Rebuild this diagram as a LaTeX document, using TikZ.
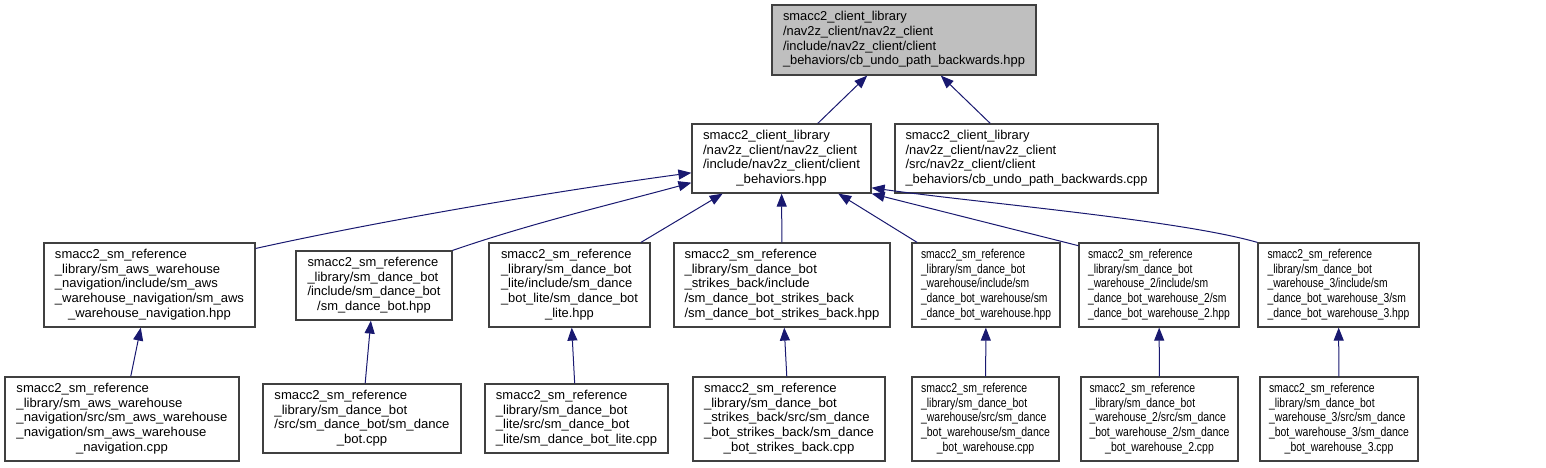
\documentclass[tikz,border=0pt]{standalone}
\usepackage{graphicx}
\usepackage{fontspec}
\setmainfont{Liberation Sans}
\usetikzlibrary{arrows.meta}
\definecolor{navy}{RGB}{25,25,112}
\definecolor{bordergray}{RGB}{64,64,64}
\definecolor{topfill}{RGB}{191,191,191}
\newcommand\dlab[3]{\resizebox{#1}{\height}{\begin{tabular}{@{}l@{}}#2\\\multicolumn{1}{@{}c@{}}{#3}\end{tabular}}}
\begin{document}
\begin{tikzpicture}[x=1pt,y=-1pt,
  box/.style={draw=bordergray, line width=1.2pt, fill=white, inner sep=0pt,
    font=\fontsize{12.9}{14.7}\selectfont},
  dep/.style={draw=navy, line width=1pt, -{Triangle[length=13pt,width=10pt]}}]
\useasboundingbox (0,0) rectangle (1546,467);
% top
\node[box, fill=topfill, minimum width=264pt, minimum height=70pt] (T) at (904,40)
  {\dlab{242pt}{smacc2\_client\_library\\/nav2z\_client/nav2z\_client\\/include/nav2z\_client/client}{\_behaviors/cb\_undo\_path\_backwards.hpp}};
% row 1
\node[box, minimum width=179pt, minimum height=69pt] (CB) at (781.5,158.5)
  {\dlab{157pt}{smacc2\_client\_library\\/nav2z\_client/nav2z\_client\\/include/nav2z\_client/client}{\_behaviors.hpp}};
\node[box, minimum width=263pt, minimum height=69pt] (CPP) at (1026.5,158.5)
  {\dlab{242pt}{smacc2\_client\_library\\/nav2z\_client/nav2z\_client\\/src/nav2z\_client/client}{\_behaviors/cb\_undo\_path\_backwards.cpp}};
% row 2
\node[box, minimum width=211pt, minimum height=84pt] (A) at (149.5,285)
  {\dlab{189pt}{smacc2\_sm\_reference\\\_library/sm\_aws\_warehouse\\\_navigation/include/sm\_aws\\\_warehouse\_navigation/sm\_aws}{\_warehouse\_navigation.hpp}};
\node[box, minimum width=156pt, minimum height=69pt] (D) at (374,285.5)
  {\dlab{133pt}{smacc2\_sm\_reference\\\_library/sm\_dance\_bot\\/include/sm\_dance\_bot}{/sm\_dance\_bot.hpp}};
\node[box, minimum width=161pt, minimum height=84pt] (L) at (569.5,285)
  {\dlab{137pt}{smacc2\_sm\_reference\\\_library/sm\_dance\_bot\\\_lite/include/sm\_dance\\\_bot\_lite/sm\_dance\_bot}{\_lite.hpp}};
\node[box, minimum width=216pt, minimum height=84pt] (S) at (782,285)
  {\dlab{195pt}{smacc2\_sm\_reference\\\_library/sm\_dance\_bot\\\_strikes\_back/include\\/sm\_dance\_bot\_strikes\_back}{/sm\_dance\_bot\_strikes\_back.hpp}};
\node[box, minimum width=148pt, minimum height=84pt] (W) at (986,285)
  {\dlab{130pt}{smacc2\_sm\_reference\\\_library/sm\_dance\_bot\\\_warehouse/include/sm\\\_dance\_bot\_warehouse/sm}{\_dance\_bot\_warehouse.hpp}};
\node[box, minimum width=160pt, minimum height=84pt] (W2) at (1159,285)
  {\dlab{142pt}{smacc2\_sm\_reference\\\_library/sm\_dance\_bot\\\_warehouse\_2/include/sm\\\_dance\_bot\_warehouse\_2/sm}{\_dance\_bot\_warehouse\_2.hpp}};
\node[box, minimum width=161pt, minimum height=84pt] (W3) at (1338.5,285)
  {\dlab{142pt}{smacc2\_sm\_reference\\\_library/sm\_dance\_bot\\\_warehouse\_3/include/sm\\\_dance\_bot\_warehouse\_3/sm}{\_dance\_bot\_warehouse\_3.hpp}};
% row 3
\node[box, minimum width=234pt, minimum height=84pt] (Ac) at (122,419)
  {\dlab{211pt}{smacc2\_sm\_reference\\\_library/sm\_aws\_warehouse\\\_navigation/src/sm\_aws\_warehouse\\\_navigation/sm\_aws\_warehouse}{\_navigation.cpp}};
\node[box, minimum width=198pt, minimum height=69pt] (Dc) at (362,418.5)
  {\dlab{175pt}{smacc2\_sm\_reference\\\_library/sm\_dance\_bot\\/src/sm\_dance\_bot/sm\_dance}{\_bot.cpp}};
\node[box, minimum width=183pt, minimum height=69pt] (Lc) at (576.5,418.5)
  {\dlab{161pt}{smacc2\_sm\_reference\\\_library/sm\_dance\_bot\\\_lite/src/sm\_dance\_bot}{\_lite/sm\_dance\_bot\_lite.cpp}};
\node[box, minimum width=192pt, minimum height=84pt] (Sc) at (789,419)
  {\dlab{170pt}{smacc2\_sm\_reference\\\_library/sm\_dance\_bot\\\_strikes\_back/src/sm\_dance\\\_bot\_strikes\_back/sm\_dance}{\_bot\_strikes\_back.cpp}};
\node[box, minimum width=147pt, minimum height=84pt] (Wc) at (985.5,419)
  {\dlab{129pt}{smacc2\_sm\_reference\\\_library/sm\_dance\_bot\\\_warehouse/src/sm\_dance\\\_bot\_warehouse/sm\_dance}{\_bot\_warehouse.cpp}};
\node[box, minimum width=157pt, minimum height=84pt] (W2c) at (1159.5,419)
  {\dlab{140pt}{smacc2\_sm\_reference\\\_library/sm\_dance\_bot\\\_warehouse\_2/src/sm\_dance\\\_bot\_warehouse\_2/sm\_dance}{\_bot\_warehouse\_2.cpp}};
\node[box, minimum width=158pt, minimum height=84pt] (W3c) at (1339,419)
  {\dlab{140pt}{smacc2\_sm\_reference\\\_library/sm\_dance\_bot\\\_warehouse\_3/src/sm\_dance\\\_bot\_warehouse\_3/sm\_dance}{\_bot\_warehouse\_3.cpp}};
% edges
\draw[dep] (CB) -- (T);
\draw[dep] (CPP) -- (T);
\draw[dep] (A.19) .. controls (375,222) and (542,193) .. (CB.189);
\draw[dep] (D.north east) .. controls (532,223) and (613,204) .. (CB.195);
\draw[dep] (L) -- (CB);
\draw[dep] (S) -- (CB);
\draw[dep] (W) -- (CB);
\draw[dep] (W2.154) -- (CB.south east);
\draw[dep] (W3.north west) .. controls (1180,220) and (980,203) .. (CB.-18);
\draw[dep] (Ac) -- (A);
\draw[dep] (Dc) -- (D);
\draw[dep] (Lc) -- (L);
\draw[dep] (Sc) -- (S);
\draw[dep] (Wc) -- (W);
\draw[dep] (W2c) -- (W2);
\draw[dep] (W3c) -- (W3);
\end{tikzpicture}
\end{document}
